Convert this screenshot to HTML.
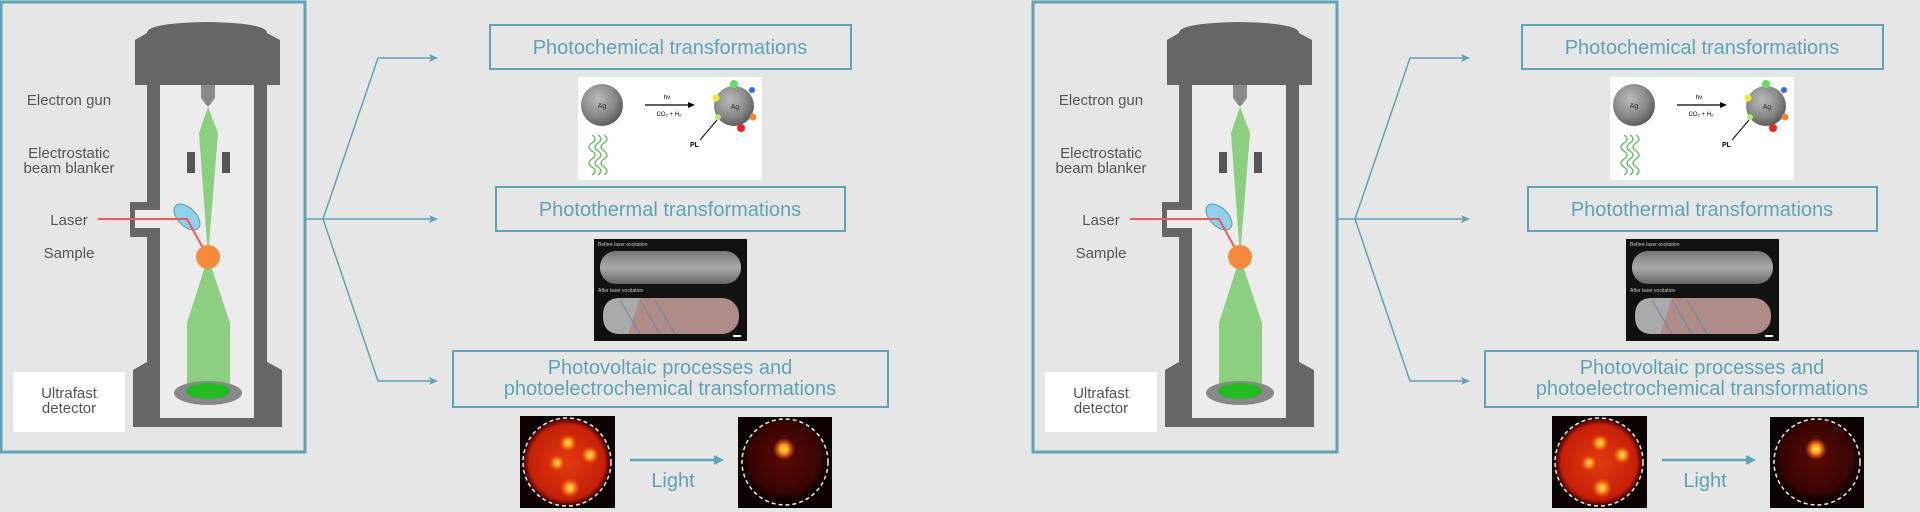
<!DOCTYPE html>
<html><head><meta charset="utf-8"><style>
html,body{margin:0;padding:0;background:#e6e6e6;}
svg{display:block;}
text{font-family:"Liberation Sans",sans-serif;}
</style></head><body>
<svg width="1920" height="512" viewBox="0 0 1920 512" xmlns="http://www.w3.org/2000/svg">
<defs>
<radialGradient id="ag" cx="0.4" cy="0.35" r="0.7"><stop offset="0" stop-color="#bbb"/><stop offset="0.6" stop-color="#888"/><stop offset="1" stop-color="#555"/></radialGradient>
<radialGradient id="hm1" cx="0.5" cy="0.5" r="0.5"><stop offset="0" stop-color="#e33a10"/><stop offset="0.85" stop-color="#c42008"/><stop offset="1" stop-color="#300"/></radialGradient>
<radialGradient id="hm2" cx="0.5" cy="0.45" r="0.5"><stop offset="0" stop-color="#5a0a05"/><stop offset="0.8" stop-color="#3a0503"/><stop offset="1" stop-color="#100"/></radialGradient>
<radialGradient id="hot" cx="0.5" cy="0.5" r="0.5"><stop offset="0" stop-color="#ffee55"/><stop offset="0.4" stop-color="#ff9a20"/><stop offset="1" stop-color="#ff5010" stop-opacity="0"/></radialGradient>
<linearGradient id="rod" x1="0" y1="0" x2="0" y2="1"><stop offset="0" stop-color="#777"/><stop offset="0.5" stop-color="#aaa"/><stop offset="1" stop-color="#666"/></linearGradient>
</defs>

<g id="half">
<!-- left panel -->
<rect x="1" y="2" width="304" height="450" fill="none" stroke="#5fa3b8" stroke-width="3"/>
<!-- microscope -->
<path d="M147,33 Q147,23 207,22 Q267,23 267,33 Z" fill="#666"/>
<path d="M135,40 L147,33 L267,33 L280,40 L280,85 L135,85 Z" fill="#666"/>
<rect x="147" y="85" width="120" height="290" fill="#666"/>
<path d="M133,370 L147,362 L267,362 L282,370 L282,427 L133,427 Z" fill="#666"/>
<rect x="160" y="85" width="94" height="333" fill="#ececec"/>
<rect x="130" y="202" width="17" height="35" fill="#666"/>
<rect x="135" y="210" width="25" height="18" fill="#ececec"/>
<path d="M201,85 L215,85 L215,98 L208,107 L201,98 Z" fill="#8a8a8a"/>
<path d="M208,107 L218,133 L208,257 L199,133 Z" fill="#8ccf80"/>
<rect x="187" y="152" width="8" height="21" fill="#555"/>
<rect x="222" y="152" width="8" height="21" fill="#555"/>
<path d="M208,257 L230,323 L230,390 L187,390 L187,323 Z" fill="#8ccf80"/>
<ellipse cx="208" cy="393" rx="34" ry="12" fill="#888"/>
<ellipse cx="208" cy="391" rx="22" ry="8" fill="#22bb22"/>
<ellipse cx="187" cy="217" rx="9" ry="16" transform="rotate(-45 187 217)" fill="#8fd0ea" stroke="#5a9fbb" stroke-width="1"/>
<polyline points="98,219 187,219 208,257" fill="none" stroke="#f05a5a" stroke-width="2"/>
<circle cx="208" cy="257" r="12" fill="#f58a3c"/>
<rect x="13" y="372" width="112" height="60" fill="#fff"/>
<g fill="#555" font-size="15" text-anchor="middle">
<text x="69" y="105">Electron gun</text>
<text x="69" y="158">Electrostatic</text>
<text x="69" y="173">beam blanker</text>
<text x="69" y="225">Laser</text>
<text x="69" y="258">Sample</text>
<text x="69" y="398">Ultrafast</text>
<text x="69" y="413">detector</text>
</g>
<!-- connectors -->
<g stroke="#5fa3b8" stroke-width="1.5" fill="none">
<polyline points="306,219 323,219"/>
<polyline points="323,219 378,58 435,58"/>
<polyline points="323,219 435,219"/>
<polyline points="323,219 378,381 435,381"/>
</g>
<g fill="#5fa3b8">
<path d="M438,58 L429,54 L431,58 L429,62 Z"/>
<path d="M438,219 L429,215 L431,219 L429,223 Z"/>
<path d="M438,381 L429,377 L431,381 L429,385 Z"/>
</g>
<!-- boxes -->
<g fill="none" stroke="#5fa3b8" stroke-width="2">
<rect x="490" y="25" width="361" height="44"/>
<rect x="496" y="187" width="349" height="44"/>
<rect x="453" y="351" width="435" height="56"/>
</g>
<g fill="#5fa3b8" font-size="20" text-anchor="middle">
<text x="670" y="54">Photochemical transformations</text>
<text x="670" y="216">Photothermal transformations</text>
<text x="670" y="374">Photovoltaic processes and</text>
<text x="670" y="395">photoelectrochemical transformations</text>
</g>
<!-- image 1 -->
<rect x="578" y="77" width="184" height="103" fill="#fff"/>
<circle cx="602" cy="105" r="21" fill="url(#ag)"/>
<text x="602" y="108" font-size="7" text-anchor="middle" fill="#333">Ag</text>
<line x1="645" y1="105" x2="690" y2="105" stroke="#000" stroke-width="1.2"/>
<path d="M695,105 L688,102 L688,108 Z"/>
<text x="667" y="99" font-size="6" text-anchor="middle">hν</text>
<text x="669" y="116" font-size="6" text-anchor="middle">CO₂ + H₂</text>
<circle cx="734" cy="106" r="20" fill="url(#ag)"/>
<text x="735" y="109" font-size="7" text-anchor="middle" fill="#333">Ag</text>
<circle cx="734" cy="84" r="4" fill="#6d6"/><circle cx="752" cy="90" r="3" fill="#36f"/><circle cx="716" cy="98" r="3.5" fill="#ee3"/><circle cx="753" cy="117" r="3.5" fill="#e83"/><circle cx="741" cy="128" r="4" fill="#e22"/><circle cx="718" cy="117" r="3" fill="#ae6"/>
<line x1="717" y1="120" x2="700" y2="140" stroke="#000" stroke-width="1"/>
<text x="690" y="147" font-size="7" font-weight="bold">PL</text>
<path d="M592,135 q6,4 0,8 q-6,4 0,8 q6,4 0,8 q-6,4 0,8 q6,4 0,8 M598,135 q6,4 0,8 q-6,4 0,8 q6,4 0,8 q-6,4 0,8 q6,4 0,8 M604,135 q6,4 0,8 q-6,4 0,8 q6,4 0,8 q-6,4 0,8 q6,4 0,8" fill="none" stroke="#5b5" stroke-width="1.3"/>
<!-- image 2 -->
<rect x="594" y="239" width="153" height="102" fill="#111"/>
<text x="598" y="246" font-size="5" fill="#ccc">Before laser excitation</text>
<rect x="600" y="251" width="141" height="33" rx="16" fill="url(#rod)"/>
<text x="598" y="292" font-size="5" fill="#ccc">After laser excitation</text>
<rect x="603" y="298" width="136" height="36" rx="17" fill="#b08c88"/>
<path d="M603,316 Q603,298 620,298 L640,298 L628,334 L620,334 Q603,334 603,316 Z" fill="#aaa"/>
<g stroke="#6a8aa8" stroke-width="1"><line x1="620" y1="300" x2="640" y2="334"/><line x1="640" y1="300" x2="660" y2="334"/><line x1="655" y1="300" x2="675" y2="334"/></g>
<rect x="733" y="335" width="8" height="2" fill="#fff"/>
<!-- heatmaps -->
<rect x="520" y="416" width="95" height="92" fill="#0a0000"/>
<circle cx="567" cy="462" r="44" fill="url(#hm1)"/>
<circle cx="568" cy="443" r="9" fill="url(#hot)"/><circle cx="590" cy="455" r="9" fill="url(#hot)"/><circle cx="557" cy="463" r="8" fill="url(#hot)"/><circle cx="570" cy="488" r="10" fill="url(#hot)"/>
<circle cx="567" cy="462" r="44" fill="none" stroke="#eee" stroke-width="1.5" stroke-dasharray="4,3"/>
<rect x="738" y="417" width="94" height="91" fill="#0a0000"/>
<circle cx="785" cy="462" r="43" fill="url(#hm2)"/>
<circle cx="784" cy="449" r="11" fill="url(#hot)"/>
<circle cx="785" cy="462" r="43" fill="none" stroke="#eee" stroke-width="1.5" stroke-dasharray="4,3"/>
<line x1="630" y1="460" x2="716" y2="460" stroke="#5fa3b8" stroke-width="2.5"/>
<path d="M724,460 L714,455 L714,465 Z" fill="#5fa3b8"/>
<text x="673" y="487" font-size="20" fill="#5fa3b8" text-anchor="middle">Light</text>
</g>
<g transform="translate(1032,0)">
<rect x="1" y="2" width="304" height="450" fill="none" stroke="#5fa3b8" stroke-width="3"/>
<path d="M147,33 Q147,23 207,22 Q267,23 267,33 Z" fill="#666"/>
<path d="M135,40 L147,33 L267,33 L280,40 L280,85 L135,85 Z" fill="#666"/>
<rect x="147" y="85" width="120" height="290" fill="#666"/>
<path d="M133,370 L147,362 L267,362 L282,370 L282,427 L133,427 Z" fill="#666"/>
<rect x="160" y="85" width="94" height="333" fill="#ececec"/>
<rect x="130" y="202" width="17" height="35" fill="#666"/>
<rect x="135" y="210" width="25" height="18" fill="#ececec"/>
<path d="M201,85 L215,85 L215,98 L208,107 L201,98 Z" fill="#8a8a8a"/>
<path d="M208,107 L218,133 L208,257 L199,133 Z" fill="#8ccf80"/>
<rect x="187" y="152" width="8" height="21" fill="#555"/>
<rect x="222" y="152" width="8" height="21" fill="#555"/>
<path d="M208,257 L230,323 L230,390 L187,390 L187,323 Z" fill="#8ccf80"/>
<ellipse cx="208" cy="393" rx="34" ry="12" fill="#888"/>
<ellipse cx="208" cy="391" rx="22" ry="8" fill="#22bb22"/>
<ellipse cx="187" cy="217" rx="9" ry="16" transform="rotate(-45 187 217)" fill="#8fd0ea" stroke="#5a9fbb" stroke-width="1"/>
<polyline points="98,219 187,219 208,257" fill="none" stroke="#f05a5a" stroke-width="2"/>
<circle cx="208" cy="257" r="12" fill="#f58a3c"/>
<rect x="13" y="372" width="112" height="60" fill="#fff"/>
<g fill="#555" font-size="15" text-anchor="middle">
<text x="69" y="105">Electron gun</text>
<text x="69" y="158">Electrostatic</text>
<text x="69" y="173">beam blanker</text>
<text x="69" y="225">Laser</text>
<text x="69" y="258">Sample</text>
<text x="69" y="398">Ultrafast</text>
<text x="69" y="413">detector</text>
</g>
<g stroke="#5fa3b8" stroke-width="1.5" fill="none">
<polyline points="306,219 323,219"/>
<polyline points="323,219 378,58 435,58"/>
<polyline points="323,219 435,219"/>
<polyline points="323,219 378,381 435,381"/>
</g>
<g fill="#5fa3b8">
<path d="M438,58 L429,54 L431,58 L429,62 Z"/>
<path d="M438,219 L429,215 L431,219 L429,223 Z"/>
<path d="M438,381 L429,377 L431,381 L429,385 Z"/>
</g>
<g fill="none" stroke="#5fa3b8" stroke-width="2">
<rect x="490" y="25" width="361" height="44"/>
<rect x="496" y="187" width="349" height="44"/>
<rect x="453" y="351" width="433" height="56"/>
</g>
<g fill="#5fa3b8" font-size="20" text-anchor="middle">
<text x="670" y="54">Photochemical transformations</text>
<text x="670" y="216">Photothermal transformations</text>
<text x="670" y="374">Photovoltaic processes and</text>
<text x="670" y="395">photoelectrochemical transformations</text>
</g>
<rect x="578" y="77" width="184" height="103" fill="#fff"/>
<circle cx="602" cy="105" r="21" fill="url(#ag)"/>
<text x="602" y="108" font-size="7" text-anchor="middle" fill="#333">Ag</text>
<line x1="645" y1="105" x2="690" y2="105" stroke="#000" stroke-width="1.2"/>
<path d="M695,105 L688,102 L688,108 Z"/>
<text x="667" y="99" font-size="6" text-anchor="middle">hν</text>
<text x="669" y="116" font-size="6" text-anchor="middle">CO₂ + H₂</text>
<circle cx="734" cy="106" r="20" fill="url(#ag)"/>
<text x="735" y="109" font-size="7" text-anchor="middle" fill="#333">Ag</text>
<circle cx="734" cy="84" r="4" fill="#6d6"/><circle cx="752" cy="90" r="3" fill="#36f"/><circle cx="716" cy="98" r="3.5" fill="#ee3"/><circle cx="753" cy="117" r="3.5" fill="#e83"/><circle cx="741" cy="128" r="4" fill="#e22"/><circle cx="718" cy="117" r="3" fill="#ae6"/>
<line x1="717" y1="120" x2="700" y2="140" stroke="#000" stroke-width="1"/>
<text x="690" y="147" font-size="7" font-weight="bold">PL</text>
<path d="M592,135 q6,4 0,8 q-6,4 0,8 q6,4 0,8 q-6,4 0,8 q6,4 0,8 M598,135 q6,4 0,8 q-6,4 0,8 q6,4 0,8 q-6,4 0,8 q6,4 0,8 M604,135 q6,4 0,8 q-6,4 0,8 q6,4 0,8 q-6,4 0,8 q6,4 0,8" fill="none" stroke="#5b5" stroke-width="1.3"/>
<rect x="594" y="239" width="153" height="102" fill="#111"/>
<text x="598" y="246" font-size="5" fill="#ccc">Before laser excitation</text>
<rect x="600" y="251" width="141" height="33" rx="16" fill="url(#rod)"/>
<text x="598" y="292" font-size="5" fill="#ccc">After laser excitation</text>
<rect x="603" y="298" width="136" height="36" rx="17" fill="#b08c88"/>
<path d="M603,316 Q603,298 620,298 L640,298 L628,334 L620,334 Q603,334 603,316 Z" fill="#aaa"/>
<g stroke="#6a8aa8" stroke-width="1"><line x1="620" y1="300" x2="640" y2="334"/><line x1="640" y1="300" x2="660" y2="334"/><line x1="655" y1="300" x2="675" y2="334"/></g>
<rect x="733" y="335" width="8" height="2" fill="#fff"/>
<rect x="520" y="416" width="95" height="92" fill="#0a0000"/>
<circle cx="567" cy="462" r="44" fill="url(#hm1)"/>
<circle cx="568" cy="443" r="9" fill="url(#hot)"/><circle cx="590" cy="455" r="9" fill="url(#hot)"/><circle cx="557" cy="463" r="8" fill="url(#hot)"/><circle cx="570" cy="488" r="10" fill="url(#hot)"/>
<circle cx="567" cy="462" r="44" fill="none" stroke="#eee" stroke-width="1.5" stroke-dasharray="4,3"/>
<rect x="738" y="417" width="94" height="91" fill="#0a0000"/>
<circle cx="785" cy="462" r="43" fill="url(#hm2)"/>
<circle cx="784" cy="449" r="11" fill="url(#hot)"/>
<circle cx="785" cy="462" r="43" fill="none" stroke="#eee" stroke-width="1.5" stroke-dasharray="4,3"/>
<line x1="630" y1="460" x2="716" y2="460" stroke="#5fa3b8" stroke-width="2.5"/>
<path d="M724,460 L714,455 L714,465 Z" fill="#5fa3b8"/>
<text x="673" y="487" font-size="20" fill="#5fa3b8" text-anchor="middle">Light</text>
</g>
</svg>
</body></html>
